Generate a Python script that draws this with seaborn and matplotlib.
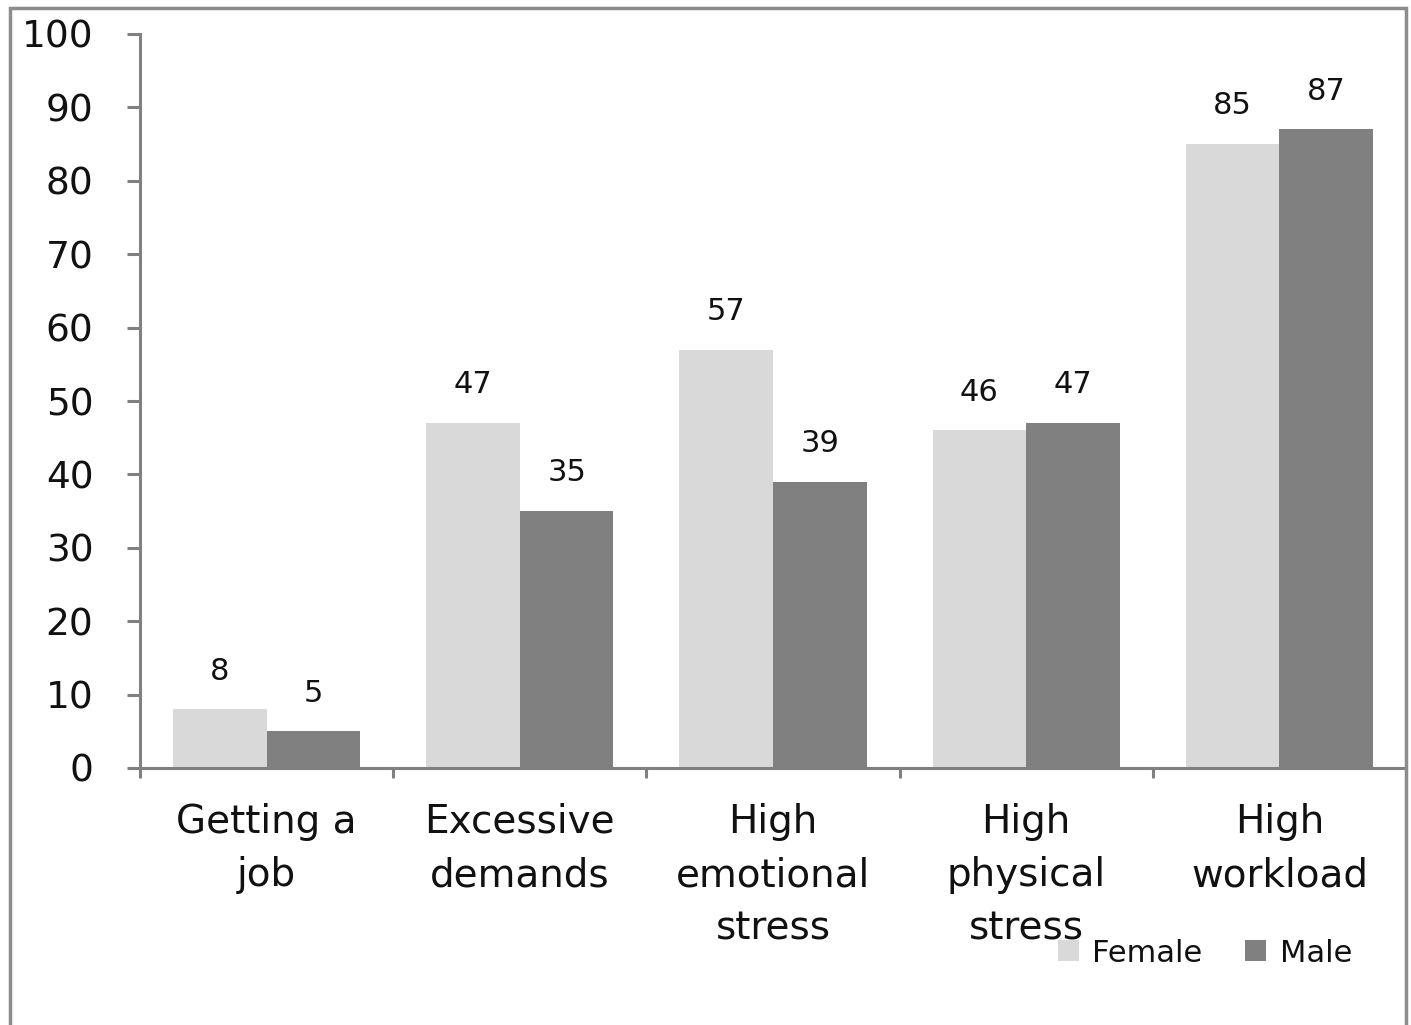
import matplotlib
matplotlib.use("Agg")
import matplotlib.pyplot as plt
import matplotlib.patches as mpatches
from matplotlib.ticker import FixedLocator, MultipleLocator
import pandas as pd
import seaborn as sns

categories = ["Getting a\njob", "Excessive\ndemands", "High\nemotional\nstress",
              "High\nphysical\nstress", "High\nworkload"]
female = [8, 47, 57, 46, 85]
male = [5, 35, 39, 47, 87]
series = ["Female", "Male"]
colors = {"Female": "#D9D9D9", "Male": "#808080"}

df = pd.DataFrame({
    "category": categories * 2,
    "value": female + male,
    "sex": [series[0]] * len(categories) + [series[1]] * len(categories),
})

sns.set_theme(style="white")
plt.rcParams["font.family"] = ["DejaVu Sans"]

fig = plt.figure(figsize=(14.11, 10.25), dpi=100)
W, H = 1411, 1025
ax = fig.add_axes([140 / W, 1 - 768 / H, (1406 - 140) / W, (768 - 34) / H])

sns.barplot(data=df, x="category", y="value", hue="sex", palette=colors,
            order=categories, hue_order=series, width=0.74, gap=0,
            saturation=1, edgecolor="none", linewidth=0, ax=ax, legend=False)

for cont in ax.containers:
    ax.bar_label(cont, labels=[f"{v:.0f}" for v in cont.datavalues],
                 padding=17, fontsize=22, color="#111111")

spine_color = "#808080"
ax.set_ylim(0, 100)
ax.set_xlim(-0.5, 4.5)
ax.yaxis.set_major_locator(MultipleLocator(10))
ax.xaxis.set_major_locator(FixedLocator(range(len(categories))))
ax.xaxis.set_minor_locator(FixedLocator([i - 0.5 for i in range(len(categories) + 1)]))
ax.set_xticklabels(categories)

for side in ["top", "right"]:
    ax.spines[side].set_visible(False)
for side in ["left", "bottom"]:
    ax.spines[side].set_color(spine_color)
    ax.spines[side].set_linewidth(2.2)

ax.tick_params(axis="y", which="major", direction="out", length=9.5, width=2.2,
               color=spine_color, left=True, pad=24, labelsize=27, labelcolor="#111111")
ax.tick_params(axis="x", which="major", length=0, pad=25, labelsize=28,
               labelcolor="#111111")
ax.tick_params(axis="x", which="minor", direction="out", length=7, width=2.2,
               color=spine_color, bottom=True)
for lbl in ax.get_xticklabels():
    lbl.set_linespacing(1.52)

ax.set_xlabel("")
ax.set_ylabel("")

handles = [mpatches.Patch(facecolor=colors[s], edgecolor="none", label=s) for s in series]
fig.legend(handles=handles, loc="center", bbox_to_anchor=(1205 / W, 1 - 953 / H),
           ncol=2, frameon=False, fontsize=22, handlelength=0.68, handleheight=0.68,
           handletextpad=0.45, columnspacing=1.4, labelcolor="#111111")

frame = mpatches.Rectangle((10 / W, -0.05), (1406 - 10) / W, 1.05 - 8 / H,
                           transform=fig.transFigure, fill=False,
                           edgecolor="#8C8C8C", linewidth=2.5, zorder=0)
fig.patches.append(frame)

fig.savefig("out.png", dpi=100)
